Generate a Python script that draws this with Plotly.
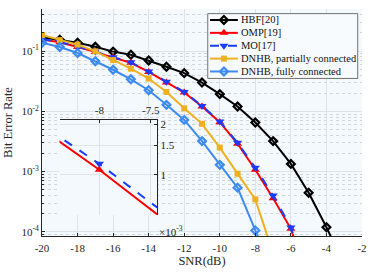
import numpy as np
import plotly.graph_objects as go

# SNR values (dB) and bit error rates
snr = list(range(-20, -2))

ber_hbf = [0.17, 0.155, 0.138, 0.118, 0.098, 0.087, 0.070, 0.055, 0.043, 0.030,
           0.0193, 0.012, 0.0065, 0.0032, 0.00134, 0.000445, 0.000119, 2.8e-5]
ber_omp = [0.156, 0.14, 0.117, 0.097, 0.078, 0.064, 0.045, 0.030, 0.0205, 0.012,
           0.0066, 0.0029, 0.00107, 0.00036, 0.000112, 1.4e-5]
ber_mo = [0.158, 0.142, 0.119, 0.098, 0.079, 0.065, 0.046, 0.031, 0.021, 0.0123,
          0.0068, 0.0030, 0.00116, 0.0004, 0.000118, 1.6e-5]
ber_dnhb_pc = [0.185, 0.152, 0.128, 0.099, 0.071, 0.051, 0.035, 0.021, 0.0112,
               0.0062, 0.0025, 0.00092, 0.000345, 4.4e-5]
ber_dnhb_fc = [0.138, 0.117, 0.093, 0.068, 0.049, 0.034, 0.0224, 0.0128, 0.0072,
               0.0032, 0.00129, 0.00054, 0.000105, 2e-5]

x_ticks = list(range(-20, -1, 2))
y_ticks = [1e-4, 1e-3, 1e-2, 1e-1]
y_ticktext = ['10<sup>-4</sup>', '10<sup>-3</sup>', '10<sup>-2</sup>', '10<sup>-1</sup>']

inset_x_ticks = [-8, -7.5]
inset_y_ticks = [1e-3, 1.5e-3, 2e-3]
inset_y_ticktext = ['1', '1.5', '2']

FONT = 'Liberation Serif, Times New Roman, serif'
AX = '#262626'

series = [
    ('HBF[20]', ber_hbf, '#000000', 'diamond-open', 6, 'solid'),
    ('OMP[19]', ber_omp, '#ff0000', 'triangle-up', 8, 'solid'),
    ('MO[17]', ber_mo, '#1a3cff', 'triangle-down', 8, 'dash'),
    ('DNHB, partially connected', ber_dnhb_pc, '#edb120', 'square', 6, 'solid'),
    ('DNHB, fully connected', ber_dnhb_fc, '#3d8bf0', 'diamond-open', 6, 'solid'),
]


def marker_style(color, symbol, size):
    mk = dict(symbol=symbol, size=size, color=color)
    if symbol.endswith('open'):
        mk['line'] = dict(width=2.2, color=color)
    return mk


fig = go.Figure()
for name, ber, color, symbol, size, dash in series:
    fig.add_trace(go.Scatter(x=snr[:len(ber)], y=ber, name=name, mode='lines+markers',
                             line=dict(color=color, width=2, dash=dash),
                             marker=marker_style(color, symbol, size)))

# zoomed inset with OMP and MO only
for name, ber, color, symbol, size, dash in series[1:3]:
    fig.add_trace(go.Scatter(x=snr[:len(ber)], y=ber, mode='lines+markers',
                             line=dict(color=color, width=2, dash=dash),
                             marker=dict(symbol=symbol, size=size, color=color),
                             xaxis='x2', yaxis='y2'))

# compact legend box (plotly's own legend rows are too tall for this size)
LEG_X0, LEG_X1 = 0.518, 0.9866
LEG_TOP, ROW_H = 0.9796, 0.0567
LEG_PAD = 0.028
SAMPLE_X0, SAMPLE_X1 = 0.525, 0.612
leg_bottom = LEG_TOP - ROW_H * len(series) - 0.002
fig.add_trace(go.Scatter(x=[LEG_X0, LEG_X1, LEG_X1, LEG_X0, LEG_X0],
                         y=[LEG_TOP, LEG_TOP, leg_bottom, leg_bottom, LEG_TOP],
                         mode='lines', fill='toself', fillcolor='#f8fbfe',
                         line=dict(color='#707070', width=1),
                         xaxis='x3', yaxis='y3', hoverinfo='skip'))
for i, (name, ber, color, symbol, size, dash) in enumerate(series):
    row_y = LEG_TOP - LEG_PAD - ROW_H * i
    mid = (SAMPLE_X0 + SAMPLE_X1) / 2
    fig.add_trace(go.Scatter(x=[SAMPLE_X0, SAMPLE_X1], y=[row_y, row_y], mode='lines',
                             line=dict(color=color, width=2, dash=dash),
                             xaxis='x3', yaxis='y3', hoverinfo='skip'))
    fig.add_trace(go.Scatter(x=[mid], y=[row_y], mode='markers',
                             marker=marker_style(color, symbol, size),
                             xaxis='x3', yaxis='y3', hoverinfo='skip'))
    fig.add_annotation(text=name, xref='x3', yref='y3', x=SAMPLE_X1 + 0.004, y=row_y,
                       xanchor='left', yanchor='middle', showarrow=False,
                       font=dict(family=FONT, size=10.5, color='#111111'))

axis_common = dict(showline=True, linecolor=AX, linewidth=1, ticks='inside', ticklen=3,
                   tickcolor=AX, showgrid=True, gridcolor='#dfe3e6', gridwidth=1,
                   zeroline=False)

fig.update_layout(
    width=374, height=272,
    margin=dict(l=41, r=11, t=7, b=35),
    paper_bgcolor='white',
    plot_bgcolor='#f4f9fd',
    font=dict(family=FONT, size=11, color=AX),
    showlegend=False,
    hovermode=False,
    xaxis=dict(range=[-20, -2], tickvals=x_ticks, ticktext=[str(v) for v in x_ticks],
               ticklabelstandoff=2,
               title=dict(text='SNR(dB)', font=dict(size=12.5), standoff=2),
               **axis_common),
    yaxis=dict(type='log', range=[np.log10(8.5e-5), np.log10(0.5)],
               tickvals=y_ticks, ticktext=y_ticktext,
               minor=dict(dtick='D1', showgrid=True, gridcolor='#d2d6da', griddash='dot',
                          ticks='inside', ticklen=2, tickcolor=AX),
               title=dict(text='Bit Error Rate', font=dict(size=12.5), standoff=6),
               **axis_common),
    xaxis2=dict(domain=[0.0547, 0.3605], anchor='y2', side='top',
                range=[-8.387, -7.436], tickvals=inset_x_ticks,
                ticktext=[str(v) for v in inset_x_ticks], **axis_common),
    yaxis2=dict(domain=[0.0924, 0.5117], anchor='x2', side='right', type='log',
                range=[np.log10(0.575e-3), np.log10(2.12e-3)],
                tickvals=inset_y_ticks, ticktext=inset_y_ticktext, **axis_common),
    xaxis3=dict(overlaying='x', range=[0, 1], anchor='y3', visible=False),
    yaxis3=dict(overlaying='y', range=[0, 1], anchor='x3', visible=False),
)

fig.add_annotation(text='×10<sup>-3</sup>', xref='x2 domain', yref='y2 domain',
                   x=1.0, y=-0.07, xanchor='left', yanchor='top', showarrow=False,
                   font=dict(family=FONT, size=11, color=AX))

# drop the browser's default page margin so the figure sits at the window corner
fig.write_html('out.html', config={'displayModeBar': False},
               post_script="document.body.style.margin='0';")
